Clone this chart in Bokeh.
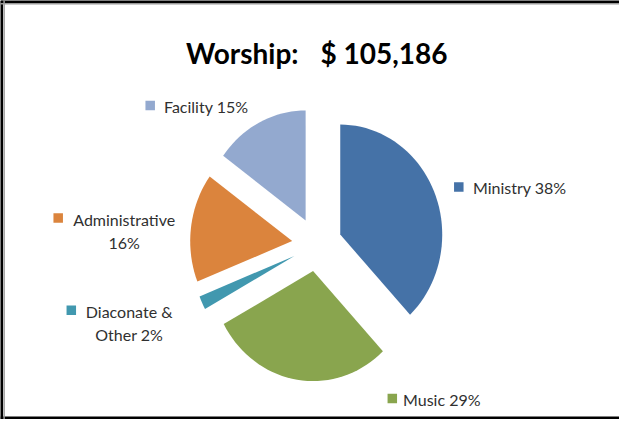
import math
from bokeh.plotting import figure
from bokeh.models import Range1d, Span
from bokeh.core.properties import value
from bokeh.embed import file_html
from bokeh.resources import INLINE

# ---- data ----
categories = ["Ministry", "Music", "Diaconate & Other", "Administrative", "Facility"]
shares = [38, 29, 2, 16, 15]
label_lines = [["Ministry 38%"], ["Music 29%"], ["Diaconate &", "Other 2%"],
               ["Administrative", "16%"], ["Facility 15%"]]
title_parts = ["Worship:", "$ 105,186"]

# ---- styles / layout ----
colors = ["#4572A7", "#89A54E", "#4198AF", "#DB843D", "#93A9CF"]
W, H = 619, 419
cx, cy, rx, ry, explode = 324.5, 252.0, 102.0, 110.0, 0.245
marker_pos = [(466.3, 194.5), (399.8, 406.0), (78.8, 317.7), (65.7, 225.5), (157.7, 113.0)]
text_pos = [[(480.5, 195.0)], [(410.5, 406.5)], [(136.7, 318.5), (136.7, 341.8)],
            [(131.7, 226.8), (131.7, 250.0)], [(171.5, 113.5)]]
text_align = ["left", "left", "center", "center", "left"]
title_pos = [(306.0, 60.0), (328.0, 60.0)]
title_align = ["right", "left"]

p = figure(width=W, height=H, output_backend="svg", toolbar_location=None,
           x_range=Range1d(8, 8 + W), y_range=Range1d(8 + H, 8),
           min_border=0, min_border_left=0, min_border_right=0,
           min_border_top=0, min_border_bottom=0)
p.axis.visible = False
p.grid.visible = False
p.outline_line_color = None
p.background_fill_color = "white"
p.border_fill_color = "white"

# frame (left, top, bottom black; inner gray)
p.add_layout(Span(location=9.0, dimension="height", line_color="black", line_width=3))
p.add_layout(Span(location=9.0, dimension="width", line_color="black", line_width=3))
p.add_layout(Span(location=425.5, dimension="width", line_color="black", line_width=3))
p.add_layout(Span(location=11.6, dimension="height", line_color="#999999", line_width=1.5))
p.add_layout(Span(location=11.3, dimension="width", line_color="#999999", line_width=1.5))

# pie slices (clockwise from 12 o'clock, exploded)
total = float(sum(shares))
xs, ys = [], []
cum = 0.0
for s in shares:
    a0 = 2 * math.pi * cum / total
    a1 = 2 * math.pi * (cum + s) / total
    mid = (a0 + a1) / 2
    ox = cx + explode * rx * math.sin(mid)
    oy = cy - explode * ry * math.cos(mid)
    n = max(4, int(120 * s / total) + 2)
    px, py = [ox], [oy]
    for k in range(n + 1):
        t = a0 + (a1 - a0) * k / n
        px.append(ox + rx * math.sin(t))
        py.append(oy - ry * math.cos(t))
    xs.append(px)
    ys.append(py)
    cum += s
p.patches(xs, ys, fill_color=colors, line_color=None)

# labels
p.scatter([m[0] for m in marker_pos], [m[1] for m in marker_pos], marker="square",
          size=9.5, fill_color=colors, line_color=None)
for lines, poss, al in zip(label_lines, text_pos, text_align):
    for t, (x, y) in zip(lines, poss):
        p.text([x], [y], text=[t], text_font=value("Lato"), text_font_size="16px",
               text_color="#303030", text_align=al, text_baseline="middle")

# title
for t, (x, y), al in zip(title_parts, title_pos, title_align):
    p.text([x], [y], text=[t], text_font=value("Lato"), text_font_style="bold",
           text_font_size="28px", text_color="black", text_align=al,
           text_baseline="alphabetic")

open("out.html", "w").write(file_html(p, INLINE))
